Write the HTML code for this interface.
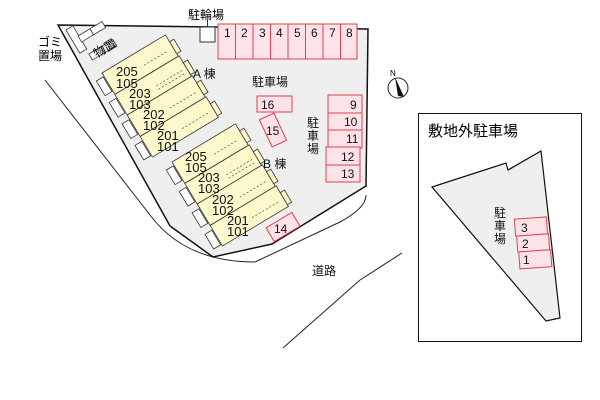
<!DOCTYPE html>
<html><head><meta charset="utf-8"><style>
html,body{margin:0;padding:0;background:#fff;}
svg{display:block;font-family:"Liberation Sans","Noto Sans CJK JP",sans-serif;}
</style></head><body>
<svg width="600" height="400" viewBox="0 0 600 400" xmlns="http://www.w3.org/2000/svg">
<path d="M45,80 L150,215 Q185,262 255,262 L340,222 Q366,208 366,195" fill="none" stroke="#222" stroke-width="1"/>
<path d="M402,253 L360,280 L300,333 L283,348" fill="none" stroke="#222" stroke-width="1"/>
<polygon points="58,25 368,29 366,186 272,244 213,257 170,226" fill="#efefef" stroke="#111" stroke-width="1.5"/>

<g transform="translate(102,73) rotate(-31)" stroke="#333" stroke-width="0.8">
  <rect x="-9" y="4" width="8" height="17" fill="#fff"/>
  <rect x="-9" y="29" width="8" height="17" fill="#fff"/>
  <rect x="-9" y="54" width="8" height="17" fill="#fff"/>
  <rect x="-9" y="79" width="8" height="17" fill="#fff"/>
  <rect x="0" y="0" width="74" height="25" fill="#fcf8cc"/>
  <rect x="0" y="25" width="75" height="24" fill="#fcf8cc"/>
  <rect x="0" y="49" width="76" height="25" fill="#fcf8cc"/>
  <rect x="0" y="74" width="77" height="24" fill="#fcf8cc"/>
  <rect x="74" y="8" width="5" height="14" fill="#fcf8cc"/>
  <rect x="75" y="33" width="5" height="14" fill="#fcf8cc"/>
  <rect x="76" y="57" width="5" height="14" fill="#fcf8cc"/>
  <rect x="77" y="82" width="5" height="14" fill="#fcf8cc"/>
  <g stroke-dasharray="2,2" stroke-width="0.6"><line x1="40" y1="15" x2="68" y2="15"/><line x1="40" y1="39" x2="70" y2="39"/><line x1="40" y1="43" x2="70" y2="43"/><line x1="40" y1="65" x2="70" y2="65"/><line x1="40" y1="89" x2="72" y2="89"/></g>
</g>
<g transform="translate(172,162) rotate(-31)" stroke="#333" stroke-width="0.8">
  <rect x="-9" y="4" width="8" height="17" fill="#fff"/>
  <rect x="-9" y="29" width="8" height="17" fill="#fff"/>
  <rect x="-9" y="54" width="8" height="17" fill="#fff"/>
  <rect x="-9" y="79" width="8" height="17" fill="#fff"/>
  <rect x="0" y="0" width="74" height="25" fill="#fcf8cc"/>
  <rect x="0" y="25" width="75" height="24" fill="#fcf8cc"/>
  <rect x="0" y="49" width="76" height="25" fill="#fcf8cc"/>
  <rect x="0" y="74" width="77" height="24" fill="#fcf8cc"/>
  <rect x="74" y="8" width="5" height="14" fill="#fcf8cc"/>
  <rect x="75" y="33" width="5" height="14" fill="#fcf8cc"/>
  <rect x="76" y="57" width="5" height="14" fill="#fcf8cc"/>
  <rect x="77" y="82" width="5" height="14" fill="#fcf8cc"/>
  <g stroke-dasharray="2,2" stroke-width="0.6"><line x1="40" y1="15" x2="68" y2="15"/><line x1="40" y1="39" x2="70" y2="39"/><line x1="40" y1="43" x2="70" y2="43"/><line x1="40" y1="65" x2="70" y2="65"/><line x1="40" y1="89" x2="72" y2="89"/></g>
</g>
<g font-size="13" fill="#111">
<text x="116" y="76">205</text><text x="116" y="88">105</text>
<text x="129" y="98">203</text><text x="129" y="109">103</text>
<text x="143" y="119">202</text><text x="143" y="130">102</text>
<text x="157" y="140">201</text><text x="157" y="151">101</text>
<text x="185" y="161">205</text><text x="185" y="172">105</text>
<text x="198" y="182">203</text><text x="198" y="193">103</text>
<text x="212" y="204">202</text><text x="212" y="215">102</text>
<text x="227" y="225">201</text><text x="227" y="236">101</text>
</g>

<g transform="translate(66,30) rotate(-31)" fill="#fff" stroke="#333" stroke-width="0.8"><rect x="0" y="0" width="8" height="27"/></g>
<g transform="translate(78,36) rotate(-31)" fill="#fff" stroke="#333" stroke-width="0.8">
<rect x="0" y="0" width="14" height="7"/><rect x="14" y="0" width="14" height="7"/>
<rect x="0" y="21" width="14" height="7"/><rect x="14" y="21" width="14" height="7"/>
</g>
<text x="92" y="55" font-size="12" transform="rotate(-31 100 48)">物置</text>
<text x="38" y="46" font-size="12">ゴミ</text>
<text x="38" y="60" font-size="12">置場</text>

<rect x="218" y="24" width="139" height="35" fill="#fde3e8" stroke="#e0404a"/>
<g stroke="#e0404a" stroke-width="1">
<line x1="235.5" y1="24" x2="235.5" y2="59"/><line x1="253" y1="24" x2="253" y2="59"/><line x1="270.5" y1="24" x2="270.5" y2="59"/><line x1="288" y1="24" x2="288" y2="59"/><line x1="305.5" y1="24" x2="305.5" y2="59"/><line x1="323" y1="24" x2="323" y2="59"/><line x1="340.5" y1="24" x2="340.5" y2="59"/>
</g>
<g font-size="12" fill="#111">
<text x="224" y="37">1</text><text x="241" y="37">2</text><text x="259" y="37">3</text><text x="276" y="37">4</text><text x="294" y="37">5</text><text x="311" y="37">6</text><text x="329" y="37">7</text><text x="346" y="37">8</text>
</g>
<rect x="200" y="27" width="15" height="15" fill="#fff" stroke="#333"/>
<line x1="207.5" y1="20" x2="207.5" y2="27" stroke="#333"/>
<text x="188" y="19" font-size="12">駐輪場</text>

<g fill="#fde3e8" stroke="#e0404a" stroke-width="1">
<rect x="328" y="95" width="34" height="18"/><rect x="328" y="113" width="34" height="17"/><rect x="328" y="130" width="34" height="18"/>
<rect x="326" y="147" width="34" height="18"/><rect x="326" y="165" width="34" height="17"/>
<rect x="257" y="96" width="35" height="16"/>
<rect x="-8" y="-15" width="16" height="30" transform="translate(273,130) rotate(-25)"/>
<rect x="-15" y="-8" width="30" height="16" transform="translate(283,227) rotate(-31)"/>
</g>
<g font-size="12" fill="#111">
<text x="350" y="109">9</text><text x="344" y="126">10</text><text x="346" y="143">11</text><text x="341" y="161">12</text><text x="341" y="178">13</text>
<text x="261" y="109">16</text><text x="266" y="135">15</text><text x="274" y="233">14</text>
</g>
<g font-size="12" fill="#111">
<text x="252" y="86">駐車場</text>
<text x="307" y="127">駐</text><text x="307" y="140">車</text><text x="307" y="153">場</text>
<text x="193" y="78">A 棟</text>
<text x="263" y="168">B 棟</text>
<text x="312" y="275">道路</text>
</g>

<circle cx="398" cy="88" r="10" fill="#fff" stroke="#222"/>
<polygon points="395,77 404,97 398,96" fill="#111"/>
<text x="390" y="76" font-size="8">N</text>

<rect x="418.5" y="113.5" width="163" height="228" fill="#fff" stroke="#111"/>
<text x="428" y="136" font-size="15">敷地外駐車場</text>
<polygon points="432,187 506,163 508,170 541,151 560,318 546,321" fill="#efefef" stroke="#111" stroke-width="1.2"/>
<g fill="#fde3e8" stroke="#e0404a" stroke-width="1" transform="rotate(-4 532 241)">
<rect x="516" y="218" width="32" height="17"/><rect x="517" y="235" width="32" height="16"/><rect x="518" y="251" width="32" height="17"/>
</g>
<g font-size="12" fill="#111">
<text x="521" y="232">3</text><text x="522" y="248">2</text><text x="523" y="264">1</text>
<text x="494" y="217">駐</text><text x="494" y="230">車</text><text x="494" y="243">場</text>
</g>
</svg>
</body></html>
